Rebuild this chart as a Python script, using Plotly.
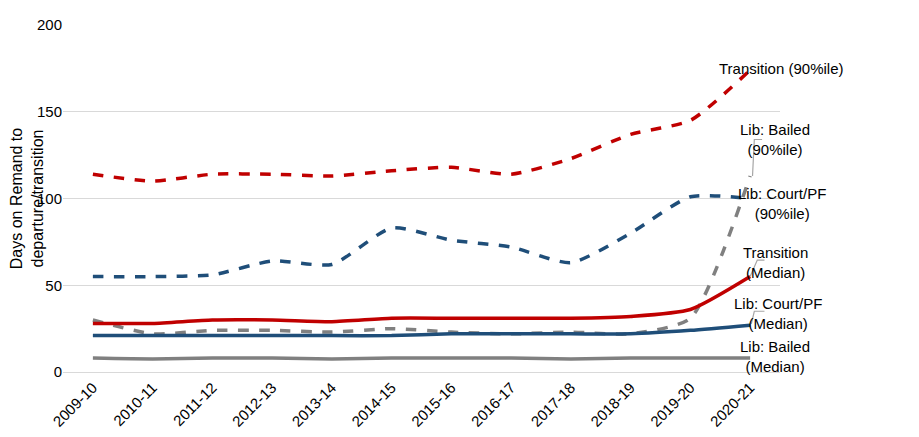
import plotly.graph_objects as go

years = ["2009-10", "2010-11", "2011-12", "2012-13", "2013-14", "2014-15",
         "2015-16", "2016-17", "2017-18", "2018-19", "2019-20", "2020-21"]

transition_90 = [114, 110, 114, 114, 113, 116, 118, 114, 123, 137, 145, 174]
court_90 = [55, 55, 56, 64, 62, 83, 76, 72, 63, 80, 101, 100]
bailed_90 = [30, 22, 24, 24, 23, 25, 23, 22, 23, 22, 31, 113]
transition_med = [28, 28, 30, 30, 29, 31, 31, 31, 31, 32, 36, 55]
court_med = [21, 21, 21, 21, 21, 21, 22, 22, 22, 22, 24, 27]
bailed_med = [8, 7.5, 8, 8, 7.5, 8, 8, 8, 7.5, 8, 8, 8]

RED = "#C00000"
BLUE = "#1F4E79"
GREY = "#808080"

series = [
    (transition_90, RED, "dash", "Transition (90%ile)"),
    (court_90, BLUE, "dash", "Lib: Court/PF (90%ile)"),
    (bailed_90, GREY, "dash", "Lib: Bailed (90%ile)"),
    (transition_med, RED, "solid", "Transition (Median)"),
    (court_med, BLUE, "solid", "Lib: Court/PF (Median)"),
    (bailed_med, GREY, "solid", "Lib: Bailed (Median)"),
]

fig = go.Figure()
idx = list(range(len(years)))
for vals, col, dash, name in series:
    fig.add_trace(go.Scatter(x=idx, y=vals, name=name, mode="lines",
                             line=dict(color=col, width=3.5, dash=dash, shape="spline", smoothing=0.6)))

# labels at right side (x given in category units, converted to paper)
labels = [
    ("Transition (90%ile)", 12.6, 175),
    ("Lib: Bailed<br>(90%ile)", 12.04, 134),
    ("Lib: Court/PF<br>(90%ile)", 12.3, 97),
    ("Transition<br>(Median)", 12.0, 63),
    ("Lib: Court/PF<br>(Median)", 12.24, 34),
    ("Lib: Bailed<br>(Median)", 12.03, 9),
]
for text, x, y in labels:
    fig.add_annotation(x=(x + 0.5) / 12, y=y, text=text, showarrow=False, xref="paper", yref="y",
                       font=dict(size=15, color="#000000"), align="center")

# leader lines
leaders = [
    "M 11.04 113 L 11.07 134 L 11.2 134",
    "M 11.0 55 L 11.12 64.5 L 11.24 64.5",
    "M 11.02 27.7 L 11.07 35 L 11.24 35",
]
for p in leaders:
    fig.add_shape(type="path", path=p, xref="x", yref="y",
                  line=dict(color="#A6A6A6", width=1.2))

fig.update_layout(
    width=919, height=437,
    margin=dict(l=55, r=147, t=17, b=73),
    plot_bgcolor="white", paper_bgcolor="white",
    showlegend=False,
    font=dict(family="Liberation Sans, Arial", size=15, color="#000000"),
)
fig.update_xaxes(range=[-0.5, 11.5], tickmode="array", tickvals=idx, ticktext=years,
                 tickangle=-45, showgrid=False, showline=True, linecolor="#D9D9D9",
                 ticks="", tickfont=dict(size=15), zeroline=False, automargin=False)
fig.update_yaxes(range=[0, 200], dtick=50, showgrid=True, gridcolor="#D9D9D9",
                 zeroline=False, showline=False, tickfont=dict(size=15), automargin=False,
                 title=dict(text="Days on Remand to<br>departure/transition", font=dict(size=16), standoff=6))

fig.write_html("out.html")
